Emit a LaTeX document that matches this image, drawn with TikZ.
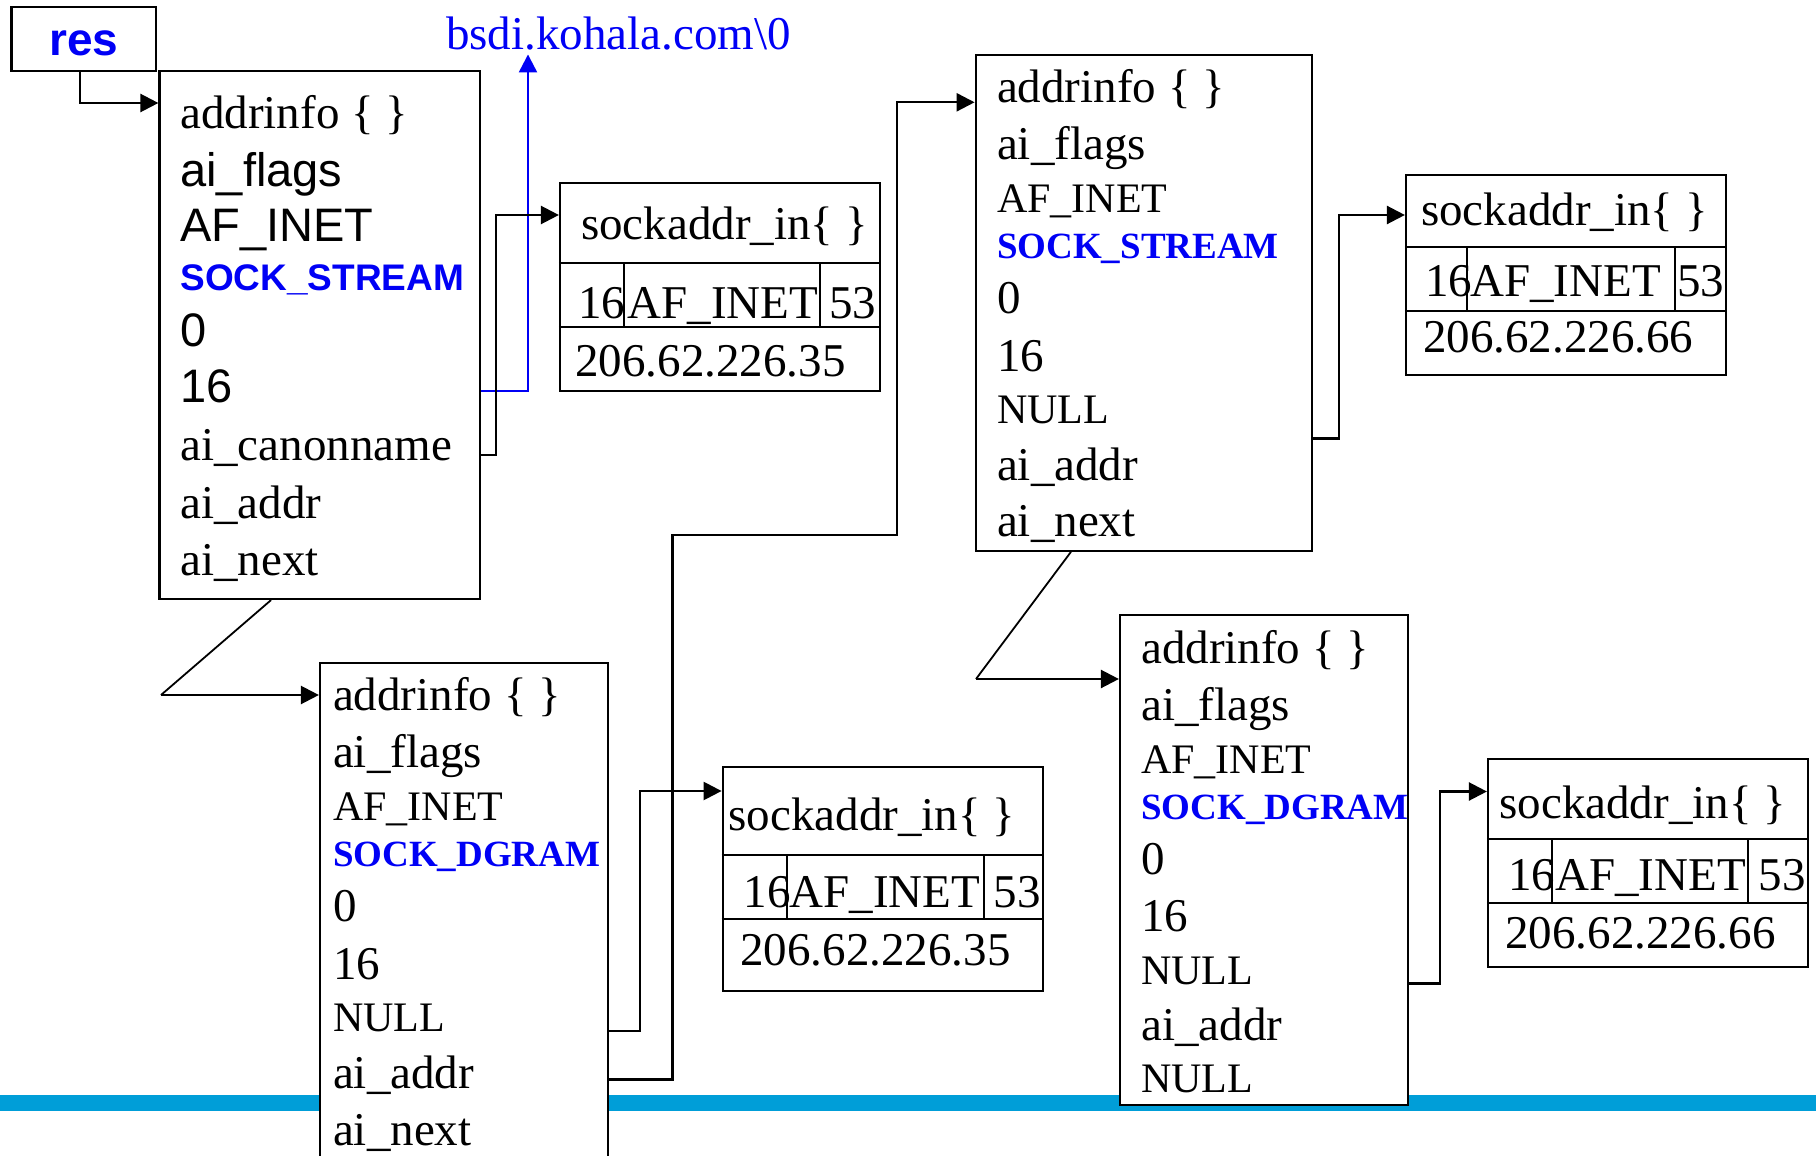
\documentclass[tikz,border=0pt]{standalone}
\usepackage{fontspec}
\setmainfont{Liberation Serif}
\newfontfamily\arialf{Liberation Sans}
\usetikzlibrary{arrows.meta,fit}
\definecolor{sockblue}{RGB}{0,0,245}
\definecolor{barcyan}{RGB}{0,158,216}
\newcommand\ftn{\fontsize{23.5pt}{28pt}\selectfont}
\newcommand\ftc{\fontsize{21pt}{25pt}\selectfont}
\newcommand\ftb{\fontsize{18.5pt}{22pt}\selectfont\bfseries\color{sockblue}}
\newcommand\fsn{\arialf\fontsize{23.5pt}{28pt}\selectfont}
\newcommand\fsb{\arialf\fontsize{18.5pt}{22pt}\selectfont\bfseries\color{sockblue}}
\tikzset{
  box/.style={draw, line width=1.1pt, fill=white, inner sep=0pt},
  inner/.style={line width=1.1pt},
  conn/.style={line width=1.2pt},
  diag/.style={line width=0.9pt},
  arrowhd/.style={-{Triangle[length=9pt,width=9pt]}},
  lbl/.style={anchor=base west, inner sep=0pt},
}
\begin{document}
\begin{tikzpicture}[x=0.5pt,y=-0.5pt]
\clip (0,0) rectangle (1816,1156);
\fill[barcyan] (0,1095.3) rectangle (1816,1110.5);

% ---------- boxes ----------
\node[box, fit={(11.5,6.7) (156,71)}] (res) {};
\node[box, fit={(159.5,71) (480,599)}] (b1) {};
\node[box, fit={(320,662.7) (608,1180)}] (b2) {};
\node[box, fit={(975.7,55) (1312,550.7)}] (b3) {};
\node[box, fit={(1120,615) (1407.8,1104.6)}] (b4) {};
\node[box, fit={(560,183.3) (880,390.7)}] (s1) {};
\node[box, fit={(722.7,766.7) (1043.3,990.7)}] (s2) {};
\node[box, fit={(1406,175) (1726,375)}] (s3) {};
\node[box, fit={(1488,759) (1808.3,966.7)}] (s4) {};

% sockaddr inner grid
\draw[inner] (s1.west |- 0,262.7) -- (s1.east |- 0,262.7)
             (s1.west |- 0,326.7) -- (s1.east |- 0,326.7)
             (624,262.7) -- (624,326.7) (820,262.7) -- (820,326.7);
\draw[inner] (s2.west |- 0,855) -- (s2.east |- 0,855)
             (s2.west |- 0,919) -- (s2.east |- 0,919)
             (787.3,855) -- (787.3,919) (984.3,855) -- (984.3,919);
\draw[inner] (s3.west |- 0,247.3) -- (s3.east |- 0,247.3)
             (s3.west |- 0,311.3) -- (s3.east |- 0,311.3)
             (1466.7,247.3) -- (1466.7,311.3) (1675,247.3) -- (1675,311.3);
\draw[inner] (s4.west |- 0,839) -- (s4.east |- 0,839)
             (s4.west |- 0,903.3) -- (s4.east |- 0,903.3)
             (1552.3,839) -- (1552.3,903.3) (1748.3,839) -- (1748.3,903.3);

% ---------- texts ----------
\node[lbl, anchor=base] (restxt) at (84,55.4) {\arialf\fontsize{23pt}{27pt}\selectfont\bfseries\color{sockblue}res};
\node[lbl] (bsdi) at (445.6,49.4) {\ftn\color{sockblue}bsdi.kohala.com\textbackslash 0};

% box 1
\node[lbl] (b1t1) at (180,128.5) {\ftn addrinfo \{ \}};
\node[lbl] (b1t2) at (180,186) {\fsn ai\_flags};
\node[lbl] (b1t3) at (180,242) {\fsn AF\_INET};
\node[lbl] (b1t4) at (180,290.6) {\fsb SOCK\_STREAM};
\node[lbl] (b1t5) at (180,346) {\fsn 0};
\node[lbl] (b1t6) at (180,402.5) {\fsn 16};
\node[lbl] (b1t7) at (180,460.6) {\ftn ai\_canonname};
\node[lbl] (b1t8) at (180,518) {\ftn ai\_addr};
\node[lbl] (b1t9) at (180,575) {\ftn ai\_next};

% box 2
\node[lbl] (b2t1) at (332.7,710) {\ftn addrinfo \{ \}};
\node[lbl] (b2t2) at (332.7,767.7) {\ftn ai\_flags};
\node[lbl] (b2t3) at (332.7,820) {\ftc AF\_INET};
\node[lbl] (b2t4) at (332.7,866) {\ftb SOCK\_DGRAM};
\node[lbl] (b2t5) at (332.7,921) {\ftn 0};
\node[lbl] (b2t6) at (332.7,979.3) {\ftn 16};
\node[lbl] (b2t7) at (332.7,1031) {\ftc NULL};
\node[lbl] (b2t8) at (332.7,1088.3) {\ftn ai\_addr};
\node[lbl] (b2t9) at (332.7,1145) {\ftn ai\_next};

% box 3
\node[lbl] (b3t1) at (996.7,102.3) {\ftn addrinfo \{ \}};
\node[lbl] (b3t2) at (996.7,160) {\ftn ai\_flags};
\node[lbl] (b3t3) at (996.7,212.7) {\ftc AF\_INET};
\node[lbl] (b3t4) at (996.7,258.3) {\ftb SOCK\_STREAM};
\node[lbl] (b3t5) at (996.7,313.3) {\ftn 0};
\node[lbl] (b3t6) at (996.7,371) {\ftn 16};
\node[lbl] (b3t7) at (996.7,423.3) {\ftc NULL};
\node[lbl] (b3t8) at (996.7,480) {\ftn ai\_addr};
\node[lbl] (b3t9) at (996.7,536.7) {\ftn ai\_next};

% box 4
\node[lbl] (b4t1) at (1140.8,663) {\ftn addrinfo \{ \}};
\node[lbl] (b4t2) at (1140.8,720.6) {\ftn ai\_flags};
\node[lbl] (b4t3) at (1140.8,773) {\ftc AF\_INET};
\node[lbl] (b4t4) at (1140.8,819) {\ftb SOCK\_DGRAM};
\node[lbl] (b4t5) at (1140.8,874.8) {\ftn 0};
\node[lbl] (b4t6) at (1140.8,931.6) {\ftn 16};
\node[lbl] (b4t7) at (1140.8,984) {\ftc NULL};
\node[lbl] (b4t8) at (1140.8,1040.8) {\ftn ai\_addr};
\node[lbl] (b4t9) at (1140.8,1092) {\ftc NULL};

% sockaddr texts
\node[lbl] (s1h) at (580.7,239) {\ftn sockaddr\_in\{ \}};
\node[lbl] (s1a) at (578,318.3) {\ftn 16};
\node[lbl] (s1b) at (627.3,318.3) {\ftn AF\_INET};
\node[lbl] (s1c) at (829,318.3) {\ftn 53};
\node[lbl] (s1d) at (575,376) {\ftn 206.62.226.35};

\node[lbl] (s2h) at (728.3,830.7) {\ftn sockaddr\_in\{ \}};
\node[lbl] (s2a) at (743.3,907.7) {\ftn 16};
\node[lbl] (s2b) at (789.3,907.7) {\ftn AF\_INET};
\node[lbl] (s2c) at (993.3,907.7) {\ftn 53};
\node[lbl] (s2d) at (740,965) {\ftn 206.62.226.35};

\node[lbl] (s3h) at (1420.7,226) {\ftn sockaddr\_in\{ \}};
\node[lbl] (s3a) at (1425,296) {\ftn 16};
\node[lbl] (s3b) at (1470,296) {\ftn AF\_INET};
\node[lbl] (s3c) at (1676.7,296) {\ftn 53};
\node[lbl] (s3d) at (1422.7,352.7) {\ftn 206.62.226.66};

\node[lbl] (s4h) at (1499,818.3) {\ftn sockaddr\_in\{ \}};
\node[lbl] (s4a) at (1507.7,890) {\ftn 16};
\node[lbl] (s4b) at (1555,890) {\ftn AF\_INET};
\node[lbl] (s4c) at (1758.3,890) {\ftn 53};
\node[lbl] (s4d) at (1505,948.3) {\ftn 206.62.226.66};

% ---------- connectors ----------
\draw[conn, arrowhd] (res.south -| 80,0) |- (b1.west |- 0,103);
\draw[conn, arrowhd, sockblue] (b1.east |- 0,390.7) -| ([yshift=-2pt]bsdi.south -| 528,0);
\draw[conn, arrowhd] (b1.east |- 0,454.7) -- (496,454.7) |- (s1.west |- 0,215);
\draw[diag] (b1.south -| 271,0) -- (161,695);
\draw[conn, arrowhd] (161,695) -- (b2.west |- 0,695);
\draw[conn, arrowhd] (b2.east |- 0,1031) -| (640,791) -- (s2.west |- 0,791);
\draw[conn, arrowhd] (b2.east |- 0,1079.3) -| (672.3,535) -| (896.7,102.3) -- (b3.west |- 0,102.3);
\draw[conn, arrowhd] (b3.east |- 0,438.3) -| (1339,215) -- (s3.west |- 0,215);
\draw[diag] (b3.south -| 1071,0) -- (976,679);
\draw[conn, arrowhd] (976,679) -- (b4.west |- 0,679);
\draw[conn, arrowhd] (b4.east |- 0,983.5) -| (1440,791.5) -- (s4.west |- 0,791.5);
\end{tikzpicture}
\end{document}
